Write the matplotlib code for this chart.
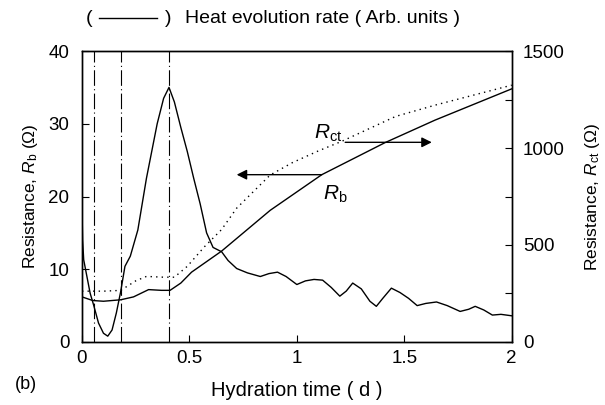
import matplotlib
matplotlib.use("Agg")
import matplotlib.pyplot as plt
from matplotlib.lines import Line2D

plt.rcParams['font.family'] = ['Liberation Sans', 'DejaVu Sans']
plt.rcParams['mathtext.fontset'] = 'custom'
plt.rcParams['mathtext.rm'] = 'Liberation Sans'
plt.rcParams['mathtext.it'] = 'Liberation Sans:italic'

# Heat evolution rate (arbitrary units, drawn on left scale)
heat_t = [0.0, 0.003, 0.008, 0.023, 0.038, 0.054, 0.077, 0.1, 0.12, 0.14, 0.16,
          0.18, 0.2, 0.225, 0.26, 0.3, 0.35, 0.38, 0.405, 0.43, 0.46, 0.49,
          0.52, 0.55, 0.58, 0.61, 0.65, 0.68, 0.72, 0.77, 0.83, 0.87, 0.91,
          0.95, 1.0, 1.04, 1.08, 1.12, 1.16, 1.2, 1.23, 1.26, 1.3, 1.34, 1.37,
          1.4, 1.44, 1.48, 1.52, 1.56, 1.6, 1.65, 1.7, 1.76, 1.8, 1.83, 1.87,
          1.91, 1.95, 2.0]
heat_val = [18.5, 14.0, 11.3, 9.0, 6.7, 5.1, 2.6, 1.2, 0.8, 1.65, 4.0,
            6.9, 10.4, 11.8, 15.4, 22.5, 30.0, 33.5, 35.0, 33.0, 29.5, 26.2,
            22.5, 19.0, 15.0, 13.0, 12.4, 11.2, 10.1, 9.5, 9.0, 9.4, 9.6,
            9.0, 7.9, 8.4, 8.6, 8.5, 7.5, 6.3, 7.0, 8.1, 7.3, 5.6, 4.9,
            6.0, 7.4, 6.8, 6.0, 5.0, 5.3, 5.5, 5.0, 4.2, 4.5, 4.9, 4.4,
            3.7, 3.8, 3.6]

# R_b (left axis, ohm)
rb_t = [0.0, 0.05, 0.1, 0.18, 0.24, 0.31, 0.37, 0.41, 0.46, 0.51, 0.65,
        0.876, 1.116, 1.41, 1.643, 2.0]
rb_val = [6.2, 5.7, 5.6, 5.8, 6.2, 7.2, 7.1, 7.1, 8.1, 9.6, 12.5,
          18.1, 23.0, 27.4, 30.5, 34.8]

# R_ct (right axis, ohm)
rct_t = [0.0, 0.1, 0.18, 0.25, 0.3, 0.38, 0.43, 0.49, 0.57, 0.65, 0.72,
         0.876, 0.98, 1.1, 1.21, 1.46, 1.65, 2.0]
rct_val = [262, 262, 266, 315, 338, 334, 334, 390, 491, 580, 690,
           861, 925, 985, 1035, 1163, 1223, 1324]

# characteristic times (dash-dot markers)
mark_t = [0.055, 0.18, 0.405]

fig = plt.figure(figsize=(6.05, 4.05), dpi=100)
ax = fig.add_axes([0.1355, 0.1556, 0.7103, 0.7184])
ax2 = ax.twinx()

ax.plot(heat_t, heat_val, color='black', lw=1.0)
ax.plot(rb_t, rb_val, color='black', lw=1.0)
ax2.plot(rct_t, rct_val, color='black', lw=1.0, linestyle=(0, (1, 3)))
for t in mark_t:
    ax.axvline(t, color='black', lw=0.8, linestyle=(0, (14, 3, 1, 3)))

ax.set_xlim(0, 2)
ax.set_ylim(0, 40)
ax2.set_ylim(0, 1500)
ax.set_xticks([0, 0.5, 1, 1.5, 2])
ax.set_xticklabels(['0', '0.5', '1', '1.5', '2'])
ax.set_yticks([0, 10, 20, 30, 40])
ax2.set_yticks([0, 250, 500, 750, 1000, 1250, 1500])
ax2.set_yticklabels(['0', '', '500', '', '1000', '', '1500'])

ax.tick_params(axis='both', direction='in', length=5, width=0.8, labelsize=13.5)
ax.tick_params(axis='y', pad=9)
ax.tick_params(axis='x', pad=6)
ax2.tick_params(axis='y', direction='in', length=5, width=0.8, labelsize=13.5, pad=8)
for a in (ax, ax2):
    for s in a.spines.values():
        s.set_linewidth(1.0)

ax.set_ylabel(r'Resistance, $R_\mathrm{b}$ ($\Omega$)', fontsize=12.5, labelpad=6)
ax2.set_ylabel(r'Resistance, $R_\mathrm{ct}$ ($\Omega$)', fontsize=12.5, labelpad=13)
ax.set_xlabel('Hydration time ( d )', fontsize=14.5, labelpad=10)

# arrows and curve labels
ax.annotate('', xy=(0.72, 23.0), xytext=(1.116, 23.0),
            arrowprops=dict(arrowstyle='-|>', color='black', lw=1.0,
                            mutation_scale=15, shrinkA=0, shrinkB=0))
ax.annotate('', xy=(1.628, 27.45), xytext=(1.225, 27.45),
            arrowprops=dict(arrowstyle='-|>', color='black', lw=1.0,
                            mutation_scale=15, shrinkA=0, shrinkB=0))
ax.text(1.08, 28.0, r'$R_\mathrm{ct}$', fontsize=15, ha='left', va='baseline')
ax.text(1.12, 19.6, r'$R_\mathrm{b}$', fontsize=15, ha='left', va='baseline')

# header legend and panel letter
fig.text(0.142, 0.955, '(', fontsize=14, ha='left', va='center')
fig.add_artist(Line2D([0.164, 0.259], [0.955, 0.955], transform=fig.transFigure,
                      color='black', lw=1.0))
fig.text(0.272, 0.955, ')', fontsize=14, ha='left', va='center')
fig.text(0.306, 0.955, 'Heat evolution rate ( Arb. units )', fontsize=14,
         ha='left', va='center')
fig.text(0.025, 0.05, '(b)', fontsize=13, ha='left', va='center')

fig.savefig('out.png', dpi=100)
